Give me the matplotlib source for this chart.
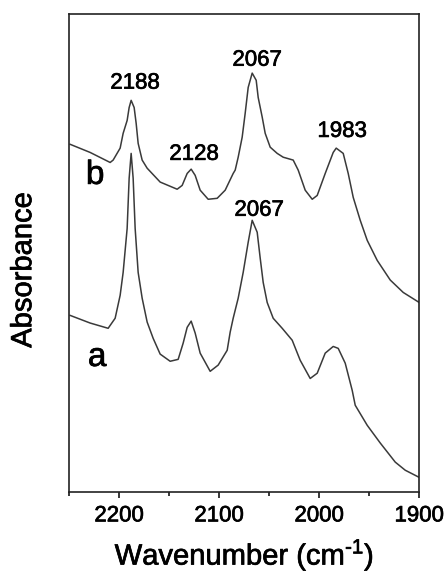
import matplotlib

matplotlib.use("Agg")
import matplotlib.patheffects as pe
import matplotlib.pyplot as plt
from matplotlib.ticker import MultipleLocator

plt.rcParams["font.family"] = ["Liberation Sans", "DejaVu Sans"]

# spectrum b (upper trace)
wn_b = [2249, 2229, 2209, 2206, 2199, 2196, 2192, 2190, 2188, 2185, 2183, 2181, 2177, 2172,
        2159, 2142, 2137, 2132, 2128, 2124, 2119, 2111, 2102, 2094, 2086, 2084, 2081, 2077,
        2074, 2071, 2067, 2063, 2061, 2057, 2054, 2049, 2042, 2036, 2026, 2021, 2014, 2007,
        2002, 1994, 1986, 1983, 1976, 1971, 1966, 1959, 1952, 1942, 1929, 1916, 1900]
abs_b = [0.728, 0.711, 0.690, 0.695, 0.720, 0.751, 0.778, 0.805, 0.820, 0.805, 0.772, 0.730,
         0.695, 0.678, 0.649, 0.634, 0.642, 0.667, 0.676, 0.663, 0.632, 0.613, 0.615, 0.632,
         0.667, 0.674, 0.701, 0.743, 0.793, 0.847, 0.877, 0.862, 0.826, 0.785, 0.751, 0.722,
         0.709, 0.701, 0.695, 0.674, 0.632, 0.613, 0.621, 0.667, 0.711, 0.720, 0.709, 0.667,
         0.617, 0.569, 0.527, 0.485, 0.444, 0.418, 0.397]

# spectrum a (lower trace)
wn_a = [2249, 2229, 2211, 2204, 2199, 2196, 2192, 2190, 2188, 2186, 2184, 2181, 2177, 2172,
        2166, 2159, 2149, 2141, 2136, 2132, 2128, 2124, 2119, 2109, 2101, 2092, 2089, 2086,
        2081, 2076, 2071, 2067, 2062, 2059, 2056, 2052, 2046, 2037, 2027, 2019, 2009, 2002,
        1994, 1986, 1981, 1974, 1967, 1964, 1952, 1939, 1924, 1914, 1900]
abs_a = [0.370, 0.354, 0.343, 0.364, 0.412, 0.460, 0.552, 0.657, 0.709, 0.657, 0.552, 0.460,
         0.406, 0.356, 0.322, 0.289, 0.274, 0.278, 0.312, 0.345, 0.358, 0.333, 0.291, 0.253,
         0.266, 0.297, 0.335, 0.364, 0.406, 0.460, 0.523, 0.569, 0.544, 0.490, 0.439, 0.397,
         0.364, 0.343, 0.318, 0.276, 0.238, 0.249, 0.291, 0.305, 0.301, 0.270, 0.213, 0.182,
         0.140, 0.103, 0.063, 0.046, 0.031]

# peak labels: text, x, y
peak_labels = [("2188", 2184, 0.856), ("2128", 2125, 0.707), ("2067", 2062, 0.904),
               ("1983", 1977, 0.755), ("2067", 2060, 0.590)]
trace_labels = [("b", 2224, 0.663), ("a", 2222, 0.282)]

fig = plt.figure(figsize=(4.46, 5.73), dpi=100)
ax = fig.add_axes([0.155, 0.141, 0.785, 0.834])

bold_fx = [pe.withStroke(linewidth=0.5, foreground="black")]

line_color = "#3a3a3a"
ax.plot(wn_b, abs_b, color=line_color, linewidth=1.1)
ax.plot(wn_a, abs_a, color=line_color, linewidth=1.1)

for text, x, y in peak_labels:
    ax.text(x, y, text, fontsize=16, ha="center", va="center", path_effects=bold_fx)
for text, x, y in trace_labels:
    ax.text(x, y, text, fontsize=24, ha="center", va="center", path_effects=bold_fx)

ax.set_xlim(2250, 1900)
ax.set_ylim(0, 1)
ax.xaxis.set_major_locator(MultipleLocator(100))
ax.xaxis.set_minor_locator(MultipleLocator(50))
ax.set_yticks([])
ax.tick_params(axis="x", which="major", direction="out", length=4.5, width=1.1,
               labelsize=16, pad=5)
ax.tick_params(axis="x", which="minor", direction="out", length=3, width=1.1)
for label in ax.get_xticklabels():
    label.set_path_effects(bold_fx)
for spine in ax.spines.values():
    spine.set_linewidth(1.2)
    spine.set_color("#222222")

ax.set_xlabel("Wavenumber (cm$^{\\mathregular{\u20101}}$)", fontsize=21, labelpad=8,
              path_effects=bold_fx)
fig.text(0.052, 1 - 270 / 573, "Absorbance", rotation=90, fontsize=21,
         ha="center", va="center", path_effects=bold_fx)

fig.savefig("out.png", dpi=100)
